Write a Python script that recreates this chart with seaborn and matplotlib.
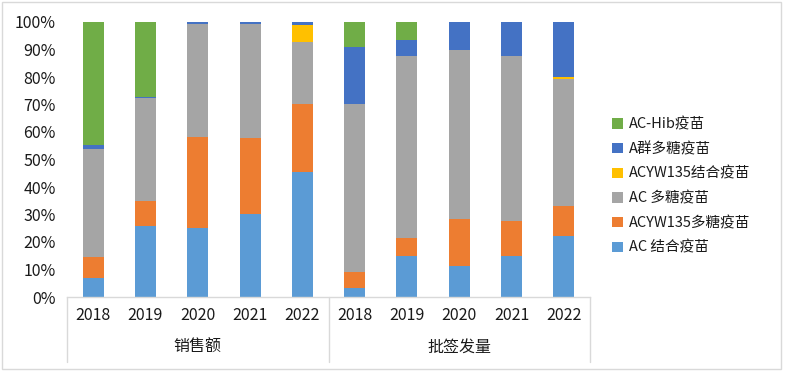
import pandas as pd
import numpy as np
import matplotlib
matplotlib.use("Agg")
import matplotlib.pyplot as plt
import matplotlib.transforms as mtransforms
from matplotlib.patches import Patch, Rectangle
import seaborn as sns

# 数据（百分比，每根柱子合计 100）
years = ["2018", "2019", "2020", "2021", "2022"]
groups = ["销售额", "批签发量"]
series = ["AC-Hib疫苗", "A群多糖疫苗", "ACYW135结合疫苗", "AC 多糖疫苗", "ACYW135多糖疫苗", "AC 结合疫苗"]
colors = ["#70AD47", "#4472C4", "#FFC000", "#A5A5A5", "#ED7D31", "#5B9BD5"]

# 前5个为销售额 2018-2022，后5个为批签发量 2018-2022
ac_conj = [6.9, 26.0, 25.0, 30.3, 45.4, 3.3, 14.8, 11.4, 15.0, 22.2]
acyw_poly = [7.7, 9.0, 33.3, 27.6, 24.9, 5.7, 6.7, 17.0, 12.7, 10.9]
ac_poly = [39.2, 37.5, 41.0, 41.4, 22.4, 61.1, 66.1, 61.4, 59.9, 46.0]
acyw_conj = [0.0, 0.0, 0.0, 0.0, 6.3, 0.0, 0.0, 0.0, 0.0, 0.9]
a_poly = [1.4, 0.3, 0.7, 0.7, 1.0, 20.8, 5.8, 10.2, 12.4, 20.0]
ac_hib = [44.8, 27.2, 0.0, 0.0, 0.0, 9.1, 6.6, 0.0, 0.0, 0.0]


def main():
    values = {
        "AC-Hib疫苗": ac_hib,
        "A群多糖疫苗": a_poly,
        "ACYW135结合疫苗": acyw_conj,
        "AC 多糖疫苗": ac_poly,
        "ACYW135多糖疫苗": acyw_poly,
        "AC 结合疫苗": ac_conj,
    }
    rows = []
    for name in series:
        for i, v in enumerate(values[name]):
            rows.append({"pos": i, "series": name, "pct": v})
    df = pd.DataFrame(rows)

    sns.set_theme(style="white")
    plt.rcParams["font.family"] = ["Noto Sans CJK SC", "DejaVu Sans"]

    fig = plt.figure(figsize=(7.88, 3.76), dpi=100)
    ax = fig.add_axes([67 / 788, 79 / 376, 523 / 788, 275 / 376])

    sns.histplot(
        data=df, x="pos", weights="pct", hue="series", hue_order=series,
        multiple="stack", discrete=True, shrink=0.4,
        palette=dict(zip(series, colors)), alpha=1, linewidth=0,
        legend=False, ax=ax,
    )

    ax.set_xlim(-0.5, 9.5)
    ax.set_ylim(0, 100)
    ax.set_yticks(np.arange(0, 101, 10))
    ax.set_yticklabels([f"{t}%" for t in range(0, 101, 10)], fontsize=11.5, color="#1a1a1a")
    ax.set_xticks(range(10))
    ax.set_xticklabels(years * 2, fontsize=11.5, color="#1a1a1a")
    ax.tick_params(axis="both", length=0)
    ax.tick_params(axis="x", pad=7)
    ax.tick_params(axis="y", pad=8)
    ax.set_xlabel("")
    ax.set_ylabel("")
    ax.grid(False)
    for s in ["top", "right", "left"]:
        ax.spines[s].set_visible(False)
    ax.spines["bottom"].set_color("#D9D9D9")
    ax.spines["bottom"].set_linewidth(1)

    # 多级分类轴的分隔线和组标签
    trans = mtransforms.blended_transform_factory(ax.transData, ax.transAxes)
    for xb in [-0.5, 4.5, 9.5]:
        ax.plot([xb, xb], [0, -0.236], transform=trans, color="#D9D9D9", lw=1, clip_on=False)
    for gi, g in enumerate(groups):
        ax.text(gi * 5 + 2, -0.182, g, transform=trans, ha="center", va="center",
                fontsize=11.5, color="#1a1a1a")

    handles = [Patch(facecolor=c, edgecolor="none") for c in colors]
    fig.legend(handles, series, loc="center left", bbox_to_anchor=(0.768, 0.505),
               frameon=False, fontsize=10.5, handlelength=0.7, handleheight=0.7,
               handletextpad=0.4, labelspacing=0.72, borderpad=0,
               labelcolor="#1a1a1a")

    # 图表外框
    fig.patches.append(Rectangle((2 / 788, 7 / 376), 779 / 788, 367 / 376,
                                 transform=fig.transFigure, fill=False,
                                 edgecolor="#D9D9D9", lw=1))

    fig.savefig("out.png", dpi=100)


if __name__ == "__main__":
    main()
